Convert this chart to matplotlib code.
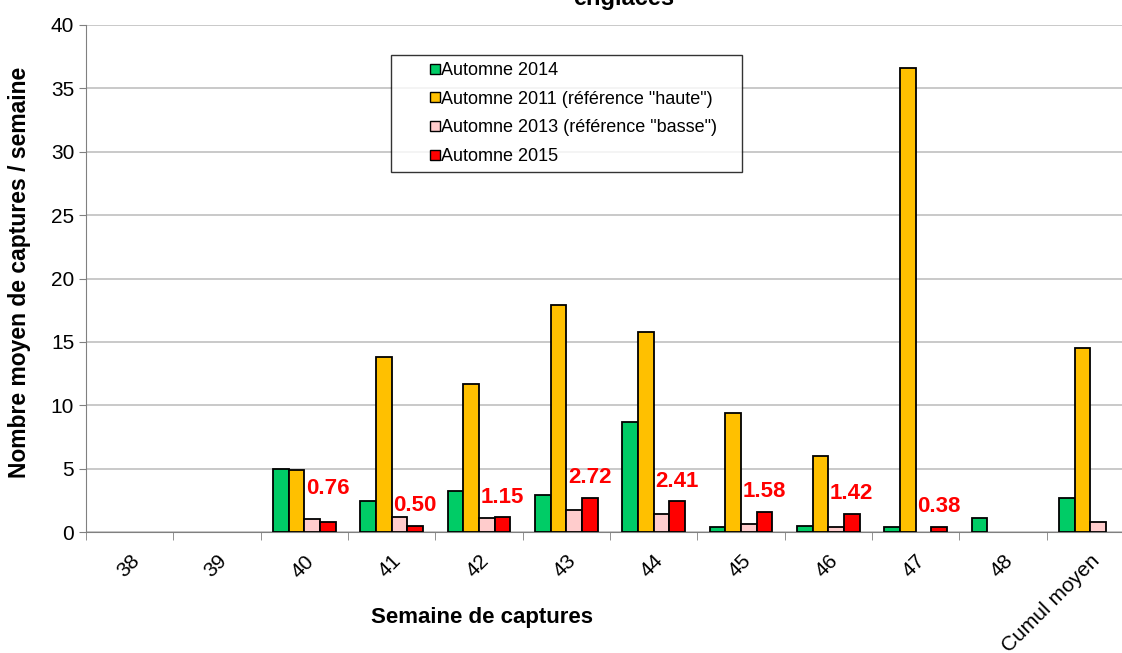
import matplotlib
matplotlib.use("Agg")
import matplotlib.pyplot as plt
from matplotlib.lines import Line2D
import numpy as np

plt.rcParams['font.family'] = ['Liberation Sans', 'DejaVu Sans']

categories = ["38", "39", "40", "41", "42", "43", "44", "45", "46", "47", "48", "Cumul moyen"]
series_names = ["Automne 2014", 'Automne 2011 (référence "haute")',
                'Automne 2013 (référence "basse")', "Automne 2015"]
automne_2014 = [np.nan, np.nan, 5.0, 2.45, 3.2, 2.9, 8.7, 0.4, 0.5, 0.4, 1.1, 2.7]
automne_2011 = [np.nan, np.nan, 4.9, 13.8, 11.7, 17.9, 15.8, 9.4, 6.0, 36.6, np.nan, 14.5]
automne_2013 = [np.nan, np.nan, 1.0, 1.15, 1.1, 1.7, 1.4, 0.6, 0.4, np.nan, np.nan, 0.8]
automne_2015 = [np.nan, np.nan, 0.76, 0.50, 1.15, 2.72, 2.41, 1.58, 1.42, 0.38, np.nan, np.nan]
colors = ["#00CC66", "#FFC000", "#FFCCCC", "#FF0000"]

fig = plt.figure(figsize=(11.22, 6.53), dpi=100)
ax = fig.add_axes([86/1122, (653-532)/653, 1048/1122, 507/653])

x = np.arange(len(categories))
w = 0.18
allseries = [automne_2014, automne_2011, automne_2013, automne_2015]
for i, (vals, c, name) in enumerate(zip(allseries, colors, series_names)):
    ax.bar(x + (i - 1.5) * w, vals, width=w, color=c, edgecolor="black",
           linewidth=1.3, label=name, zorder=3)

# data labels for Automne 2015
for xi, v in zip(x, automne_2015):
    if np.isnan(v):
        continue
    dy = 2.7 if xi == 2 else 1.6
    ax.text(xi + 0.02, v + dy, f"{v:.2f}", color="#FF0000",
            fontsize=16, fontweight="bold", ha="left", va="center", zorder=4)

ax.set_xlim(-0.5, len(categories) - 0.5)
ax.set_ylim(0, 40)
ax.set_yticks(range(0, 41, 5))
ax.tick_params(axis='y', labelsize=15, length=5, color="#808080", direction='out')
ax.set_xticks(x)
ax.set_xticklabels(categories, rotation=45, ha="right", rotation_mode="anchor", fontsize=15)
ax.tick_params(axis='x', length=0, pad=14)
ax.set_xticks(np.arange(-0.5, len(categories), 1), minor=True)
ax.tick_params(axis='x', which='minor', length=6, color="#808080", direction='out')
ax.grid(axis='y', color="#C0C0C0", linewidth=1.2, zorder=0)
ax.set_axisbelow(True)
for s in ["top", "right"]:
    ax.spines[s].set_visible(False)
ax.spines["left"].set_color("#808080")
ax.spines["bottom"].set_color("#808080")

ax.set_ylabel("Nombre moyen de captures / semaine", fontsize=16.5, fontweight="bold")
ax.yaxis.set_label_coords((31-86)/1048, 0.513)
ax.set_xlabel("Semaine de captures", fontsize=16, fontweight="bold")
ax.xaxis.set_label_coords((482-86)/1048, -0.147)

handles = [Line2D([], [], linestyle="none", marker="s", markersize=7,
                  markerfacecolor=c, markeredgecolor="black", markeredgewidth=1.0)
           for c in colors]
leg = ax.legend(handles, series_names, loc="upper left",
                bbox_to_anchor=((391-86)/1048, (532-55)/507, 351/1048, 0.0),
                mode="expand",
                fontsize=13, frameon=True, fancybox=False, edgecolor="black",
                handlelength=4.1, handletextpad=-1.72, numpoints=1,
                labelspacing=0.64, borderpad=0.4, borderaxespad=0)
leg.get_frame().set_linewidth(1.0)

fig.text(624/1122, 1 - 5/653, "englacés", fontsize=17, fontweight="bold",
         ha="center", va="baseline")

fig.savefig("out.png", dpi=100)
